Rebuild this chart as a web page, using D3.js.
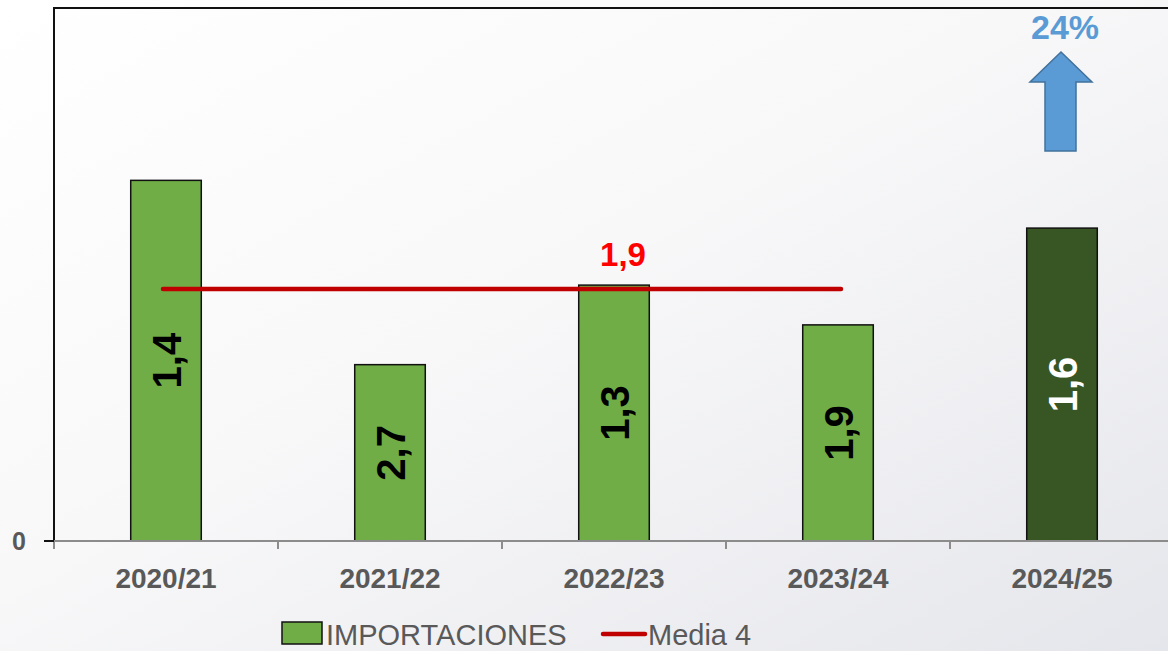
<!DOCTYPE html>
<html><head><meta charset="utf-8">
<script src="https://cdn.jsdelivr.net/npm/d3@7"></script>
<style>html,body{margin:0;padding:0;overflow:hidden;}svg{display:block;}</style>
</head><body>
<script>
const categories = ["2020/21","2021/22","2022/23","2023/24","2024/25"];
const values = [2.72, 1.33, 1.93, 1.63, 2.36];
const barLabels = ["1,4","2,7","1,3","1,9","1,6"];
const mediaValue = 1.90;
const mediaLabel = "1,9";
const mediaSpan = ["2020/21","2023/24"];
const yTicks = [0];
const changeLabel = "24%";
const legendLabels = ["IMPORTACIONES","Media 4"];

const W = 1168, H = 651;
const m = {left:54, top:8, right:-6, bottom:110};
const svg = d3.select("body").append("svg").attr("width",W).attr("height",H);
const defs = svg.append("defs");
const g0 = defs.append("linearGradient").attr("id","bg").attr("x1","0").attr("y1","0").attr("x2","1").attr("y2","1");
g0.append("stop").attr("offset","0").attr("stop-color","#ffffff");
g0.append("stop").attr("offset","0.45").attr("stop-color","#f8f8f9");
g0.append("stop").attr("offset","1").attr("stop-color","#e5e6eb");
svg.append("rect").attr("width",W).attr("height",H).attr("fill","url(#bg)");

const x = d3.scaleBand().domain(categories).range([m.left, W - m.right]).paddingInner(0.685).paddingOuter(0.3425);
const y = d3.scaleLinear().domain([0, 4.02]).range([H - m.bottom, m.top]);
const base = y(0);

// plot border top & left
svg.append("line").attr("x1",m.left).attr("x2",W).attr("y1",y(4.02)).attr("y2",y(4.02)).attr("stroke","#111").attr("stroke-width",2);
svg.append("line").attr("x1",m.left).attr("x2",m.left).attr("y1",y(4.02)-1).attr("y2",base).attr("stroke","#111").attr("stroke-width",2);

// bars
svg.selectAll("rect.bar").data(categories).enter().append("rect")
  .attr("class","bar")
  .attr("x",d=>x(d)).attr("width",x.bandwidth())
  .attr("y",(d,i)=>y(values[i])).attr("height",(d,i)=>base - y(values[i]))
  .attr("fill",(d,i)=> i===4 ? "#375623" : "#70ad47")
  .attr("stroke","#111").attr("stroke-width",1.5);

// bar labels
svg.selectAll("text.bl").data(categories).enter().append("text")
  .attr("class","bl")
  .attr("transform",(d,i)=>`translate(${x(d)+x.bandwidth()/2+1},${(y(values[i])+base)/2}) rotate(-90)`)
  .attr("text-anchor","middle").attr("dy","0.36em")
  .attr("font-family","Liberation Sans, Arial, sans-serif").attr("font-weight","bold")
  .attr("font-size",40)
  .attr("fill",(d,i)=> i===4 ? "#ffffff" : "#000000")
  .text((d,i)=>barLabels[i]);

// media line
const mx1 = x(mediaSpan[0]) + x.bandwidth()/2 - 3;
const mx2 = x(mediaSpan[1]) + x.bandwidth()/2 + 3;
svg.append("line").attr("x1",mx1).attr("x2",mx2).attr("y1",y(mediaValue)).attr("y2",y(mediaValue))
  .attr("stroke","#c00000").attr("stroke-width",4.5).attr("stroke-linecap","round");
svg.append("text").attr("x",x("2022/23")+x.bandwidth()/2+9).attr("y",y(mediaValue)-23)
  .attr("text-anchor","middle").attr("font-family","Liberation Sans, Arial, sans-serif")
  .attr("font-weight","bold").attr("font-size",33).attr("fill","#ff0000").text(mediaLabel);

// x axis
const xAxisG = svg.append("g").attr("transform",`translate(0,${base})`);
xAxisG.append("line").attr("x1",m.left).attr("x2",W).attr("stroke","#8c8c8c").attr("stroke-width",2);
const step = x.step();
const bounds = d3.range(categories.length+1).map(i => m.left + i*step);
xAxisG.selectAll("line.tk").data(bounds).enter().append("line").attr("class","tk")
  .attr("x1",d=>d).attr("x2",d=>d).attr("y1",0).attr("y2",8).attr("stroke","#8c8c8c").attr("stroke-width",2);
xAxisG.selectAll("text").data(categories).enter().append("text")
  .attr("x",d=>x(d)+x.bandwidth()/2).attr("y",47)
  .attr("text-anchor","middle").attr("font-family","Liberation Sans, Arial, sans-serif")
  .attr("font-weight","bold").attr("font-size",28).attr("fill","#595959").text(d=>d);

// y axis tick
const yAxisG = svg.append("g");
yAxisG.selectAll("line").data(yTicks).enter().append("line")
  .attr("x1",m.left-10).attr("x2",m.left).attr("y1",d=>y(d)).attr("y2",d=>y(d)).attr("stroke","#111").attr("stroke-width",2);
yAxisG.selectAll("text").data(yTicks).enter().append("text")
  .attr("x",26).attr("y",d=>y(d)+9).attr("text-anchor","end")
  .attr("font-family","Liberation Sans, Arial, sans-serif").attr("font-weight","bold")
  .attr("font-size",25).attr("fill","#595959").text(d=>d);

// arrow + percentage
const ax = x("2024/25") + x.bandwidth()/2;
const arrowPts = [[0,52],[31,82],[15,82],[15,151],[-16,151],[-16,82],[-31,82]];
svg.append("polygon").attr("points",arrowPts.map(p=>[ax-1+p[0],p[1]].join(",")).join(" "))
  .attr("fill","#5b9bd5").attr("stroke","#41719c").attr("stroke-width",1.5);
svg.append("text").attr("x",ax+3).attr("y",39).attr("text-anchor","middle")
  .attr("font-family","Liberation Sans, Arial, sans-serif").attr("font-weight","bold")
  .attr("font-size",34).attr("fill","#5b9bd5").text(changeLabel);

// legend
const lg = svg.append("g");
lg.append("rect").attr("x",282).attr("y",622).attr("width",40).attr("height",22)
  .attr("fill","#70ad47").attr("stroke","#111").attr("stroke-width",1.5);
lg.append("text").attr("x",326).attr("y",645).attr("font-family","Liberation Sans, Arial, sans-serif")
  .attr("font-size",29).attr("fill","#595959").text(legendLabels[0]);
lg.append("line").attr("x1",603).attr("x2",645).attr("y1",634).attr("y2",634)
  .attr("stroke","#c00000").attr("stroke-width",4.5).attr("stroke-linecap","round");
lg.append("text").attr("x",648).attr("y",645).attr("font-family","Liberation Sans, Arial, sans-serif")
  .attr("font-size",29).attr("fill","#595959").text(legendLabels[1]);
</script>
</body></html>
